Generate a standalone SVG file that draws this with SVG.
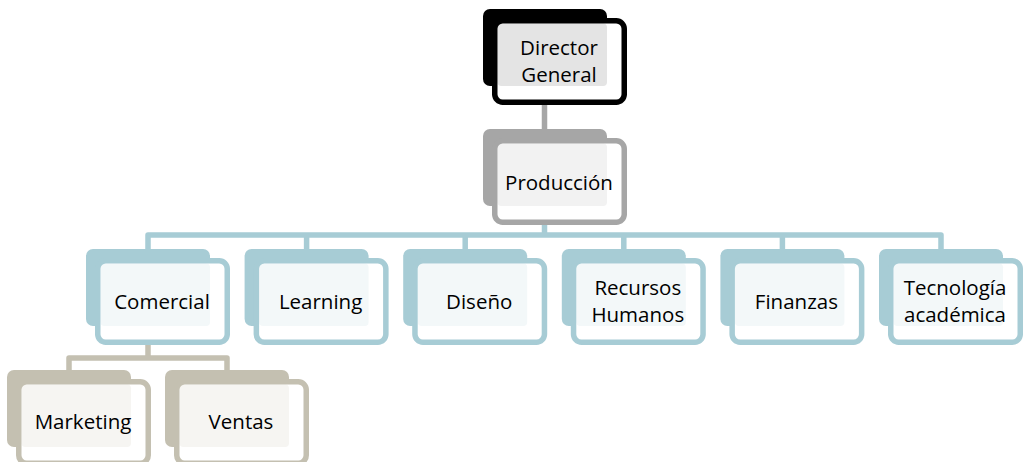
<svg xmlns="http://www.w3.org/2000/svg" width="1027" height="462" viewBox="0 0 1027 462">
  <style>
    text { font-family: "Open Sans", "Noto Sans", "Liberation Sans", sans-serif; font-size: 20.5px; fill: #000; text-anchor: middle; }
    .face { fill: #ffffff; stroke: none; }
    .frame { fill: none; stroke-width: 5.5; }
    .conn { fill: none; stroke-width: 5.5; stroke-linejoin: round; }
    .back.k { fill: #000000; }
    .frame.k { stroke: #000000; }
    .tint.k { fill: #e4e4e4; }
    .back.g { fill: #a6a6a6; }
    .frame.g { stroke: #a6a6a6; }
    .tint.g { fill: #f2f2f2; }
    .back.b { fill: #a7ccd5; }
    .frame.b { stroke: #a7ccd5; }
    .tint.b { fill: #f3f8f9; }
    .back.t { fill: #c4c0b1; }
    .frame.t { stroke: #c4c0b1; }
    .tint.t { fill: #f6f5f2; }
  </style>

  <!-- connectors -->
  <g id="connectors">
    <path class="conn" stroke="#a6a6a6" d="M544.5 100 V132"/>
    <path class="conn" stroke="#a7ccd5" d="M544.5 220 V235 M148 249 V235 H941 V249 M306.6 235 V249 M465.2 235 V249 M623.8 235 V249 M782.4 235 V249"/>
    <path class="conn" stroke="#c4c0b1" d="M148 340 V358 M69 372 V358 H227 V372"/>
  </g>

  <!-- each card: filled back plate, white face, tinted text area, thick border -->
  <g id="director-general">
    <rect class="back k" x="483" y="9" width="124" height="77" rx="7"/>
    <rect class="face" x="494.75" y="20.75" width="129.5" height="81.5" rx="8"/>
    <rect class="tint k" x="497.5" y="23.5" width="109.5" height="62.5" rx="4"/>
    <rect class="frame k" x="494.75" y="20.75" width="129.5" height="81.5" rx="8"/>
    <text x="559" y="55">Director</text>
    <text x="559" y="82">General</text>
  </g>

  <g id="produccion">
    <rect class="back g" x="483" y="129" width="124" height="77" rx="7"/>
    <rect class="face" x="494.75" y="140.75" width="129.5" height="81.5" rx="8"/>
    <rect class="tint g" x="497.5" y="143.5" width="109.5" height="62.5" rx="4"/>
    <rect class="frame g" x="494.75" y="140.75" width="129.5" height="81.5" rx="8"/>
    <text x="559" y="190">Producción</text>
  </g>

  <g id="comercial">
    <rect class="back b" x="86" y="249" width="124" height="77" rx="7"/>
    <rect class="face" x="97.75" y="260.75" width="129.5" height="81.5" rx="8"/>
    <rect class="tint b" x="100.5" y="263.5" width="109.5" height="62.5" rx="4"/>
    <rect class="frame b" x="97.75" y="260.75" width="129.5" height="81.5" rx="8"/>
    <text x="162" y="309">Comercial</text>
  </g>

  <g id="learning">
    <rect class="back b" x="244.6" y="249" width="124" height="77" rx="7"/>
    <rect class="face" x="256.35" y="260.75" width="129.5" height="81.5" rx="8"/>
    <rect class="tint b" x="259.1" y="263.5" width="109.5" height="62.5" rx="4"/>
    <rect class="frame b" x="256.35" y="260.75" width="129.5" height="81.5" rx="8"/>
    <text x="320.6" y="309">Learning</text>
  </g>

  <g id="diseno">
    <rect class="back b" x="403.2" y="249" width="124" height="77" rx="7"/>
    <rect class="face" x="414.95" y="260.75" width="129.5" height="81.5" rx="8"/>
    <rect class="tint b" x="417.7" y="263.5" width="109.5" height="62.5" rx="4"/>
    <rect class="frame b" x="414.95" y="260.75" width="129.5" height="81.5" rx="8"/>
    <text x="479.2" y="309">Diseño</text>
  </g>

  <g id="recursos-humanos">
    <rect class="back b" x="561.8" y="249" width="124" height="77" rx="7"/>
    <rect class="face" x="573.55" y="260.75" width="129.5" height="81.5" rx="8"/>
    <rect class="tint b" x="576.3" y="263.5" width="109.5" height="62.5" rx="4"/>
    <rect class="frame b" x="573.55" y="260.75" width="129.5" height="81.5" rx="8"/>
    <text x="637.8" y="295">Recursos</text>
    <text x="637.8" y="322">Humanos</text>
  </g>

  <g id="finanzas">
    <rect class="back b" x="720.4" y="249" width="124" height="77" rx="7"/>
    <rect class="face" x="732.15" y="260.75" width="129.5" height="81.5" rx="8"/>
    <rect class="tint b" x="734.9" y="263.5" width="109.5" height="62.5" rx="4"/>
    <rect class="frame b" x="732.15" y="260.75" width="129.5" height="81.5" rx="8"/>
    <text x="796.4" y="309">Finanzas</text>
  </g>

  <g id="tecnologia-academica">
    <rect class="back b" x="879" y="249" width="124" height="77" rx="7"/>
    <rect class="face" x="890.75" y="260.75" width="129.5" height="81.5" rx="8"/>
    <rect class="tint b" x="893.5" y="263.5" width="109.5" height="62.5" rx="4"/>
    <rect class="frame b" x="890.75" y="260.75" width="129.5" height="81.5" rx="8"/>
    <text x="955" y="295">Tecnología</text>
    <text x="955" y="322">académica</text>
  </g>

  <g id="marketing">
    <rect class="back t" x="7" y="370" width="124" height="77" rx="7"/>
    <rect class="face" x="18.75" y="381.75" width="129.5" height="81.5" rx="8"/>
    <rect class="tint t" x="21.5" y="384.5" width="109.5" height="62.5" rx="4"/>
    <rect class="frame t" x="18.75" y="381.75" width="129.5" height="81.5" rx="8"/>
    <text x="83" y="429">Marketing</text>
  </g>

  <g id="ventas">
    <rect class="back t" x="165" y="370" width="124" height="77" rx="7"/>
    <rect class="face" x="176.75" y="381.75" width="129.5" height="81.5" rx="8"/>
    <rect class="tint t" x="179.5" y="384.5" width="109.5" height="62.5" rx="4"/>
    <rect class="frame t" x="176.75" y="381.75" width="129.5" height="81.5" rx="8"/>
    <text x="241" y="429">Ventas</text>
  </g>
</svg>
